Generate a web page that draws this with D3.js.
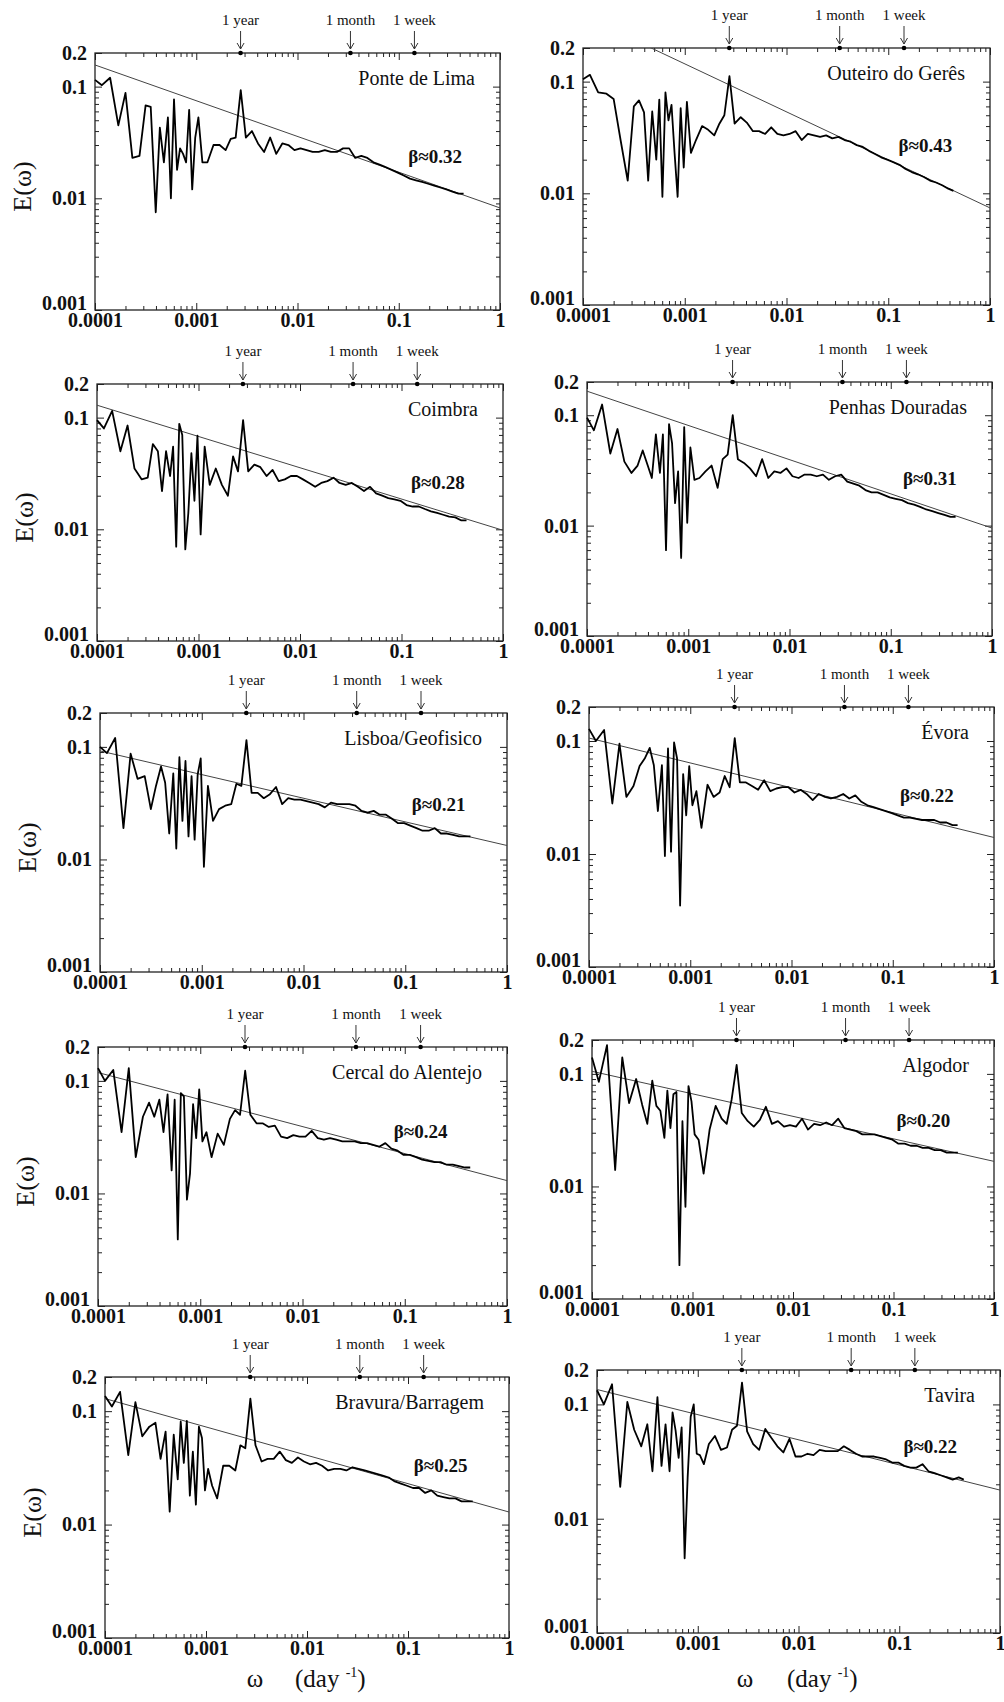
<!DOCTYPE html>
<html>
<head>
<meta charset="utf-8">
<script src="https://cdn.jsdelivr.net/npm/d3@7"></script>
<style>
body { margin: 0; background: #fff; }
svg text { font-family: "Liberation Serif", "Times New Roman", serif; fill: #111; }
.axis .domain { display: none; }
.axis line { stroke: #222; stroke-width: 1; }
</style>
</head>
<body>
<div id="chart"></div>
<script>

// frequency grid (day^-1), shared by every station
var freq = [0.0001, 0.000117, 0.000141, 0.00017, 0.0002, 0.000234, 0.000275, 0.000316, 0.000355, 0.000398,
  0.000437, 0.000479, 0.000525, 0.000562, 0.000603, 0.000646, 0.000692, 0.000741, 0.000794, 0.000851,
  0.000912, 0.000977, 0.00105, 0.00115, 0.00129, 0.00148, 0.0017, 0.00195, 0.00219, 0.00245,
  0.00275, 0.00309, 0.00355, 0.00407, 0.00468, 0.00537, 0.00617, 0.00708, 0.00813, 0.00933,
  0.0107, 0.0123, 0.0141, 0.0162, 0.0186, 0.0214, 0.0245, 0.0282, 0.0324, 0.0372,
  0.0427, 0.049, 0.0562, 0.0646, 0.0741, 0.0851, 0.0977, 0.112, 0.129, 0.148,
  0.17, 0.195, 0.224, 0.257, 0.295, 0.339, 0.389, 0.437];

var stations = ["Ponte de Lima", "Outeiro do Gerês", "Coimbra", "Penhas Douradas", "Lisboa/Geofisico",
  "Évora", "Cercal do Alentejo", "Algodor", "Bravura/Barragem", "Tavira"];
var betas = [0.32, 0.43, 0.28, 0.31, 0.21, 0.22, 0.24, 0.20, 0.25, 0.22];
// value of the fitted power law at omega = 1
var fitAmp = [0.0082, 0.0074, 0.0098, 0.0095, 0.0133, 0.014, 0.013, 0.0167, 0.0129, 0.0178];
var betaLabelFreq = [0.124, 0.126, 0.124, 0.132, 0.116, 0.118, 0.078, 0.107, 0.114, 0.11];

var periods = ["1 year", "1 month", "1 week"];
var periodDays = [365, 30, 7];
var xTicks = [0.0001, 0.001, 0.01, 0.1, 1];
var yTicks = [0.001, 0.01, 0.1, 0.2];

var ponteDeLima = [0.115, 0.103, 0.12, 0.045, 0.088, 0.023, 0.024, 0.068, 0.066, 0.0075,
  0.043, 0.021, 0.053, 0.010, 0.077, 0.018, 0.028, 0.025, 0.021, 0.062,
  0.012, 0.035, 0.053, 0.021, 0.021, 0.030, 0.030, 0.027, 0.034, 0.035,
  0.093, 0.035, 0.040, 0.031, 0.026, 0.035, 0.025, 0.031, 0.030, 0.027,
  0.028, 0.027, 0.026, 0.026, 0.027, 0.026, 0.026, 0.028, 0.028, 0.023,
  0.024, 0.023, 0.021, 0.020, 0.019, 0.018, 0.017, 0.016, 0.015, 0.0145,
  0.014, 0.0135, 0.013, 0.0125, 0.012, 0.0115, 0.011, 0.011];

var outeiroDoGeres = [0.105, 0.115, 0.08, 0.078, 0.07, 0.03, 0.013, 0.06, 0.068, 0.053,
  0.013, 0.054, 0.02, 0.069, 0.0093, 0.08, 0.045, 0.062, 0.023, 0.0093,
  0.058, 0.017, 0.066, 0.023, 0.03, 0.04, 0.037, 0.033, 0.042, 0.05,
  0.112, 0.042, 0.048, 0.043, 0.036, 0.036, 0.034, 0.039, 0.034, 0.033,
  0.034, 0.036, 0.030, 0.034, 0.033, 0.032, 0.033, 0.031, 0.032, 0.030,
  0.029, 0.027, 0.026, 0.024, 0.0225, 0.021, 0.020, 0.019, 0.018, 0.0165,
  0.0155, 0.0148, 0.014, 0.013, 0.0125, 0.0118, 0.011, 0.0105];

var coimbra = [0.095, 0.08, 0.115, 0.05, 0.085, 0.035, 0.028, 0.029, 0.058, 0.05,
  0.022, 0.05, 0.03, 0.055, 0.007, 0.088, 0.07, 0.0066, 0.014, 0.048,
  0.018, 0.069, 0.009, 0.055, 0.025, 0.035, 0.025, 0.02, 0.045, 0.033,
  0.095, 0.033, 0.038, 0.036, 0.030, 0.034, 0.027, 0.028, 0.030, 0.030,
  0.028, 0.026, 0.024, 0.026, 0.027, 0.029, 0.026, 0.025, 0.026, 0.024,
  0.022, 0.024, 0.021, 0.020, 0.019, 0.0185, 0.018, 0.0165, 0.016, 0.016,
  0.0152, 0.0145, 0.014, 0.0135, 0.013, 0.0128, 0.012, 0.012];

var penhasDouradas = [0.095, 0.073, 0.125, 0.045, 0.075, 0.038, 0.03, 0.035, 0.048, 0.035,
  0.027, 0.067, 0.03, 0.067, 0.006, 0.083, 0.056, 0.016, 0.031, 0.0051,
  0.078, 0.0106, 0.051, 0.026, 0.027, 0.031, 0.035, 0.022, 0.04, 0.044,
  0.1, 0.04, 0.037, 0.033, 0.028, 0.04, 0.027, 0.031, 0.030, 0.033,
  0.028, 0.027, 0.029, 0.029, 0.028, 0.029, 0.026, 0.028, 0.029, 0.025,
  0.024, 0.023, 0.021, 0.020, 0.020, 0.019, 0.018, 0.0175, 0.017, 0.016,
  0.0155, 0.0148, 0.014, 0.0135, 0.013, 0.0125, 0.012, 0.012];

var lisboa = [0.1, 0.088, 0.12, 0.019, 0.087, 0.052, 0.055, 0.028, 0.045, 0.067,
  0.048, 0.017, 0.058, 0.0125, 0.081, 0.022, 0.075, 0.016, 0.055, 0.015,
  0.057, 0.079, 0.0086, 0.045, 0.022, 0.028, 0.030, 0.031, 0.047, 0.045,
  0.115, 0.039, 0.039, 0.035, 0.038, 0.044, 0.031, 0.035, 0.034, 0.034,
  0.033, 0.032, 0.031, 0.029, 0.032, 0.031, 0.031, 0.031, 0.030, 0.027,
  0.026, 0.027, 0.025, 0.025, 0.023, 0.021, 0.021, 0.020, 0.019, 0.018,
  0.018, 0.019, 0.017, 0.017, 0.0165, 0.016, 0.016, 0.016];

var evora = [0.128, 0.1, 0.125, 0.028, 0.095, 0.032, 0.04, 0.06, 0.07, 0.087,
  0.061, 0.024, 0.061, 0.0096, 0.086, 0.0105, 0.097, 0.07, 0.0035, 0.051,
  0.022, 0.06, 0.027, 0.036, 0.017, 0.041, 0.032, 0.035, 0.049, 0.039,
  0.106, 0.043, 0.043, 0.040, 0.037, 0.045, 0.036, 0.038, 0.039, 0.039,
  0.035, 0.037, 0.034, 0.030, 0.034, 0.032, 0.031, 0.032, 0.034, 0.031,
  0.033, 0.029, 0.027, 0.026, 0.025, 0.024, 0.023, 0.022, 0.021, 0.021,
  0.0205, 0.020, 0.020, 0.020, 0.019, 0.019, 0.018, 0.018];

var cercal = [0.13, 0.1, 0.125, 0.035, 0.13, 0.021, 0.048, 0.064, 0.048, 0.068,
  0.035, 0.076, 0.016, 0.068, 0.0039, 0.078, 0.073, 0.0088, 0.015, 0.062,
  0.031, 0.084, 0.029, 0.035, 0.021, 0.034, 0.027, 0.046, 0.055, 0.050,
  0.123, 0.050, 0.042, 0.042, 0.039, 0.040, 0.032, 0.031, 0.033, 0.032,
  0.032, 0.036, 0.031, 0.030, 0.031, 0.030, 0.029, 0.029, 0.029, 0.028,
  0.028, 0.027, 0.026, 0.028, 0.025, 0.024, 0.022, 0.022, 0.021, 0.020,
  0.0195, 0.019, 0.019, 0.018, 0.018, 0.0175, 0.017, 0.017];

var algodor = [0.14, 0.085, 0.18, 0.014, 0.14, 0.055, 0.09, 0.053, 0.036, 0.087,
  0.052, 0.047, 0.027, 0.071, 0.033, 0.066, 0.069, 0.002, 0.038, 0.0066,
  0.078, 0.057, 0.029, 0.026, 0.013, 0.032, 0.052, 0.040, 0.036, 0.059,
  0.12, 0.045, 0.038, 0.034, 0.039, 0.051, 0.036, 0.038, 0.034, 0.035,
  0.034, 0.040, 0.032, 0.036, 0.035, 0.037, 0.035, 0.040, 0.033, 0.032,
  0.031, 0.029, 0.029, 0.029, 0.028, 0.027, 0.026, 0.024, 0.024, 0.023,
  0.023, 0.022, 0.022, 0.021, 0.021, 0.020, 0.020, 0.020];

var bravura = [0.136, 0.11, 0.148, 0.041, 0.12, 0.06, 0.073, 0.079, 0.038, 0.066,
  0.013, 0.062, 0.025, 0.081, 0.035, 0.082, 0.018, 0.044, 0.015, 0.073,
  0.058, 0.020, 0.031, 0.022, 0.017, 0.033, 0.033, 0.030, 0.05, 0.047,
  0.129, 0.05, 0.036, 0.038, 0.038, 0.044, 0.037, 0.035, 0.039, 0.036,
  0.034, 0.035, 0.033, 0.030, 0.031, 0.031, 0.030, 0.032, 0.031, 0.030,
  0.029, 0.028, 0.027, 0.026, 0.024, 0.023, 0.022, 0.021, 0.021, 0.019,
  0.020, 0.018, 0.0175, 0.017, 0.017, 0.016, 0.016, 0.016];

var tavira = [0.133, 0.1, 0.15, 0.019, 0.105, 0.06, 0.043, 0.067, 0.026, 0.116,
  0.029, 0.067, 0.026, 0.085, 0.059, 0.034, 0.063, 0.0045, 0.023, 0.078,
  0.1, 0.037, 0.036, 0.030, 0.045, 0.053, 0.040, 0.042, 0.06, 0.065,
  0.155, 0.058, 0.045, 0.04, 0.061, 0.051, 0.043, 0.038, 0.05, 0.035,
  0.035, 0.037, 0.036, 0.040, 0.039, 0.039, 0.039, 0.043, 0.040, 0.037,
  0.035, 0.035, 0.035, 0.034, 0.033, 0.031, 0.031, 0.029, 0.028, 0.028,
  0.030, 0.026, 0.025, 0.024, 0.023, 0.022, 0.023, 0.022];

var spectra = [ponteDeLima, outeiroDoGeres, coimbra, penhasDouradas, lisboa,
  evora, cercal, algodor, bravura, tavira];

// panel boxes [left, top, right, bottom]; the scan is slightly skewed so they differ a little
var boxes = [[95, 53, 500, 310], [583, 48, 990, 305],
  [97, 384, 503, 641], [587, 382, 992, 636],
  [100, 713, 507, 972], [589, 707, 994, 967],
  [98, 1047, 507, 1306], [592, 1040, 994, 1299],
  [105, 1377, 509, 1638], [597, 1370, 1000, 1633]];

var svg = d3.select("#chart").append("svg")
    .attr("width", 1004)
    .attr("height", 1702);

var defs = svg.append("defs");

function isDecade (d) {
  var l = Math.log10(d);
  return Math.abs(l - Math.round(l)) < 1e-6;
}

function styleLabels (sel, size, weight) {
  sel.selectAll("text")
    .style("font-family", '"Liberation Serif", "Times New Roman", serif')
    .style("font-size", size + "px")
    .style("font-weight", weight)
    .style("fill", "#111");
}

function drawPanel (b, i) {

  var w = b[2] - b[0],
      h = b[3] - b[1];

  var x = d3.scaleLog().domain([1e-4, 1]).range([0, w]);
  var y = d3.scaleLog().domain([0.001, 0.2]).range([h, 0]);

  var g = svg.append("g")
      .attr("transform", "translate(" + b[0] + "," + b[1] + ")");

  var minorX = x.ticks().filter(function (d) { return !isDecade(d); });
  var minorY = y.ticks().filter(function (d) { return !isDecade(d) && d < 0.19; });

  // ticks all point inwards, on four sides
  g.append("g").attr("class", "axis").attr("transform", "translate(0," + h + ")")
      .call(d3.axisBottom(x).tickValues(minorX).tickSizeInner(-4).tickSizeOuter(0).tickFormat(""));
  var xb = g.append("g").attr("class", "axis").attr("transform", "translate(0," + h + ")")
      .call(d3.axisBottom(x).tickValues(xTicks).tickSizeInner(-7).tickSizeOuter(0).tickPadding(3).tickFormat(String));
  styleLabels(xb, 20, "bold");

  g.append("g").attr("class", "axis")
      .call(d3.axisTop(x).tickValues(minorX).tickSizeInner(-4).tickSizeOuter(0).tickFormat(""));
  g.append("g").attr("class", "axis")
      .call(d3.axisTop(x).tickValues(xTicks).tickSizeInner(-7).tickSizeOuter(0).tickFormat(""));

  g.append("g").attr("class", "axis")
      .call(d3.axisLeft(y).tickValues(minorY).tickSizeInner(-4).tickSizeOuter(0).tickFormat(""));
  var yl = g.append("g").attr("class", "axis")
      .call(d3.axisLeft(y).tickValues(yTicks).tickSizeInner(-7).tickSizeOuter(0).tickPadding(8).tickFormat(String));
  styleLabels(yl, 20, "bold");
  // lift the lowest label a little so it clears the 0.0001 below it
  yl.selectAll("text")
      .filter(function (d) { return d === 0.001; })
      .attr("dy", "-0.05em");

  g.append("g").attr("class", "axis").attr("transform", "translate(" + w + ",0)")
      .call(d3.axisRight(y).tickValues(minorY).tickSizeInner(-4).tickSizeOuter(0).tickFormat(""));
  g.append("g").attr("class", "axis").attr("transform", "translate(" + w + ",0)")
      .call(d3.axisRight(y).tickValues(yTicks.slice(0, 3)).tickSizeInner(-7).tickSizeOuter(0).tickFormat(""));

  g.append("rect")
      .attr("width", w)
      .attr("height", h)
      .attr("fill", "none")
      .attr("stroke", "#222")
      .attr("stroke-width", 1.3);

  defs.append("clipPath").attr("id", "clip" + i)
    .append("rect").attr("width", w).attr("height", h);

  var line = d3.line()
      .x(function (d) { return x(d[0]); })
      .y(function (d) { return y(d[1]); });

  // power law fit E ~ omega^-beta
  var fit = [1e-4, 1].map(function (f) {
    return [f, fitAmp[i] * Math.pow(f, -betas[i])];
  });

  g.append("path")
      .attr("clip-path", "url(#clip" + i + ")")
      .attr("d", line(fit))
      .attr("fill", "none")
      .attr("stroke", "#444")
      .attr("stroke-width", 1);

  var pts = freq.map(function (f, k) { return [f, spectra[i][k]]; });

  g.append("path")
      .attr("d", line(pts))
      .attr("fill", "none")
      .attr("stroke", "#000")
      .attr("stroke-width", 1.8)
      .attr("stroke-linejoin", "round");

  g.append("text")
      .attr("x", w - 25)
      .attr("y", 32)
      .attr("text-anchor", "end")
      .style("font-size", "20px")
      .text(stations[i]);

  var bf = betaLabelFreq[i];
  g.append("text")
      .attr("x", x(bf))
      .attr("y", y(1.3 * fitAmp[i] * Math.pow(bf, -betas[i])))
      .style("font-size", "19px")
      .style("font-weight", "bold")
      .text("β≈" + d3.format(".2f")(betas[i]));

  // period markers on the top axis
  periods.forEach(function (p, k) {
    var fx = x(1 / periodDays[k]);
    g.append("circle").attr("cx", fx).attr("cy", 0).attr("r", 2.3).attr("fill", "#000");
    g.append("line")
        .attr("x1", fx).attr("x2", fx).attr("y1", -22).attr("y2", -4)
        .attr("stroke", "#333").attr("stroke-width", 1);
    g.append("path")
        .attr("d", "M" + (fx - 3.5) + "," + (-10) + "L" + fx + "," + (-4) + "L" + (fx + 3.5) + "," + (-10))
        .attr("fill", "none").attr("stroke", "#333").attr("stroke-width", 1);
    g.append("text")
        .attr("x", fx)
        .attr("y", -28)
        .attr("text-anchor", "middle")
        .style("font-size", "15px")
        .text(p);
  });

  if (i % 2 === 0) {
    g.append("text")
        .attr("transform", "translate(-64," + (h / 2 + 5) + ") rotate(-90)")
        .attr("text-anchor", "middle")
        .style("font-size", "26px")
        .text("E(ω)");
  }
}

boxes.forEach(function (b, i) {
  drawPanel(b, i);
});

// x axis title under each column
[[255, 295], [745, 787]].forEach(function (c) {
  svg.append("text")
      .attr("x", c[0]).attr("y", 1687)
      .attr("text-anchor", "middle")
      .style("font-size", "25px")
      .text("ω");
  var t = svg.append("text")
      .attr("x", c[1]).attr("y", 1687)
      .style("font-size", "25px");
  t.append("tspan").text("(day ");
  t.append("tspan").attr("dy", -10).style("font-size", "14px").text("-1");
  t.append("tspan").attr("dy", 10).text(")");
});

</script>
</body>
</html>
